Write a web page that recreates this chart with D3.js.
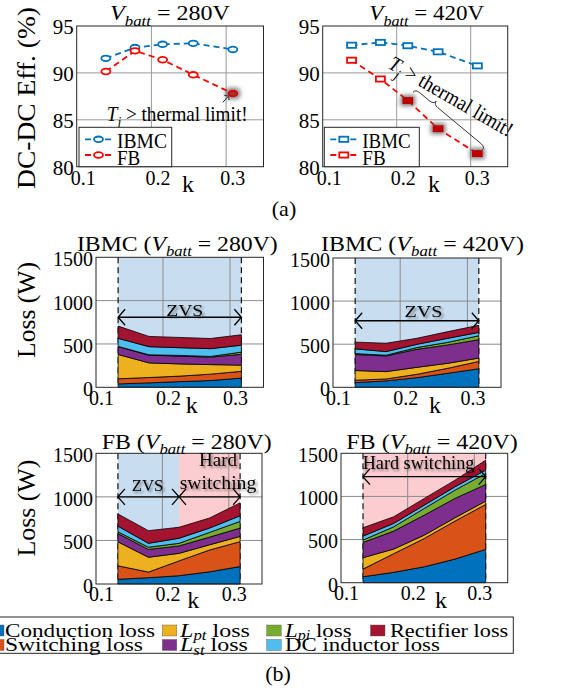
<!DOCTYPE html>
<html><head><meta charset="utf-8">
<script src="https://cdn.jsdelivr.net/npm/d3@7"></script>
<style>body{margin:0;background:#fff}svg{display:block}</style>
</head><body><svg id="c" width="562" height="698"></svg>
<script>
// ---------- DATA ----------
const kDomain = [0.1, 0.35];
const effDomain = [80, 95];
const effK = [0.139, 0.178, 0.215, 0.256, 0.309];
const eff280IBMC = [91.55, 92.7, 93.05, 93.15, 92.5];
const eff280FB = [90.15, 92.35, 91.4, 89.8, 87.8];
const eff420IBMC = [92.95, 93.25, 92.9, 92.25, 90.75];
const eff420FB = [91.35, 89.35, 87.05, 84.05, 81.4];
const effHot280 = [4];
const effHot420 = [2, 3, 4];
const kTicks = [0.1, 0.2, 0.3];
const effTicks = [80, 85, 90, 95];

const lossDomain = [0, 1500];
const lossTicks = [0, 500, 1000, 1500];
const lossK = [0.133, 0.179, 0.225, 0.271, 0.317];
const lossNames = ["Conduction loss", "Switching loss", "*L*_{pt} loss", "*L*_{st} loss", "*L*_{pi} loss", "DC inductor loss", "Rectifier loss"];
const lossColors = ["#0072BD", "#D95319", "#EDB120", "#7E2F8E", "#77AC30", "#4DBEEE", "#A2142F"];
// rows: conduction, switching, Lpt, Lst, Lpi, DC inductor, rectifier
const ibmc280 = [
  [39, 51, 66, 78, 106],
  [59, 62, 63, 74, 78],
  [281, 169, 141, 110, 72],
  [90, 89, 90, 86, 125],
  [3, 4, 8, 8, 25],
  [93, 94, 89, 90, 80],
  [141, 118, 118, 117, 120]
];
const ibmc420 = [
  [54, 74, 112, 163, 215],
  [28, 23, 39, 58, 85],
  [113, 85, 81, 58, 39],
  [186, 182, 209, 213, 213],
  [10, 8, 20, 30, 46],
  [55, 42, 38, 47, 39],
  [78, 97, 70, 77, 82]
];
const fb280 = [
  [54, 72, 95, 140, 200],
  [155, 65, 170, 250, 286],
  [275, 170, 87, 60, 60],
  [95, 90, 85, 88, 96],
  [20, 25, 30, 54, 76],
  [65, 45, 58, 50, 65],
  [140, 145, 126, 115, 148]
];
const fb420 = [
  [69, 120, 185, 274, 386],
  [89, 216, 328, 440, 521],
  [132, 54, 39, 39, 39],
  [177, 208, 232, 224, 193],
  [27, 50, 77, 96, 127],
  [46, 39, 39, 39, 39],
  [97, 77, 77, 77, 115]
];
const legendOrder = [0, 2, 4, 6, 1, 3, 5];

// ---------- HELPERS ----------
const FONT = '"Liberation Serif","Times New Roman",Times,serif';
const BLUE = "#0072BD", RED = "#FF0000";
const ZVS_FILL = "#c8ddf0", HARD_FILL = "#fccdd0";
const svg = d3.select("#c");
svg.append("defs").html(`
<filter id="halo" x="-2" y="-2" width="5" height="5">
  <feMorphology in="SourceAlpha" operator="dilate" radius="1.5" result="d"/>
  <feGaussianBlur in="d" stdDeviation="2" result="b"/>
  <feFlood flood-color="#555" flood-opacity="0.75"/>
  <feComposite in2="b" operator="in" result="s"/>
  <feMerge><feMergeNode in="s"/><feMergeNode in="SourceGraphic"/></feMerge>
</filter>
<filter id="tshadow" x="-0.3" y="-0.5" width="1.6" height="2">
  <feGaussianBlur in="SourceAlpha" stdDeviation="1.3" result="b"/>
  <feOffset in="b" dx="1.5" dy="1.5" result="o"/>
  <feComponentTransfer in="o" result="s"><feFuncA type="linear" slope="0.45"/></feComponentTransfer>
  <feMerge><feMergeNode in="s"/><feMergeNode in="SourceGraphic"/></feMerge>
</filter>`);

function parseRich(s) {
  const parts = []; const re = /\*([^*]+)\*|_\{([^}]+)\}|([^*_]+)/g; let m;
  while ((m = re.exec(s))) {
    if (m[1]) parts.push({ t: m[1], i: true });
    else if (m[2]) parts.push({ t: m[2], i: true, sub: true });
    else parts.push({ t: m[3] });
  }
  return parts;
}
function label(parent, s, o) {
  const g = parent.append("g");
  const t = g.append("text").attr("font-size", o.size).attr("text-anchor", o.anchor || "start")
    .attr("font-family", FONT).attr("fill", "#000").style("white-space", "pre");
  let sub = false;
  const sd = o.subDy || 0.28;
  parseRich(s).forEach(p => {
    const ts = t.append("tspan").text(p.t);
    if (p.i) ts.attr("font-style", "italic");
    if (p.sub) { ts.attr("font-size", o.size * 0.7).attr("dy", o.size * sd); sub = true; }
    else if (sub) { ts.attr("dy", -o.size * sd); sub = false; }
  });
  let sx = 1;
  if (o.w) { const len = t.node().getComputedTextLength(); if (len > 0) sx = o.w / len; }
  g.attr("transform", `translate(${o.x},${o.y})` + (o.rot ? ` rotate(${o.rot})` : "") + ` scale(${sx},${o.sy || 1})`);
  if (o.filter) t.attr("filter", `url(#${o.filter})`);
  return g;
}
function styleAxis(ax, size) {
  ax.attr("font-family", FONT).attr("font-size", size);
  ax.select(".domain").remove();
  ax.selectAll("text").attr("fill", "#000");
}

// ---------- EFFICIENCY PANELS ----------
function marker(g, type, cx, cy, c, hot) {
  let m;
  if (type === "circle") {
    m = g.append("ellipse").attr("cx", cx).attr("cy", cy).attr("rx", 4.5).attr("ry", 2.8);
  } else {
    m = g.append("rect").attr("x", cx - 4.5).attr("y", cy - 2.6).attr("width", 9).attr("height", 5.2);
  }
  m.attr("stroke-width", 1.8);
  if (hot) {
    m.attr("stroke", type === "circle" ? "#d40000" : "#b80000")
     .attr("fill", type === "circle" ? "#a83030" : "#c00000").attr("filter", "url(#halo)");
  } else m.attr("fill", "#fff").attr("stroke", c);
}
function effPanel(o) {
  const g = svg.append("g");
  const yb = 166.7, yt = 26;
  const x = d3.scaleLinear().domain(kDomain).range([o.x0, o.x1]);
  const y = d3.scaleLinear().domain(effDomain).range([yb, yt]);
  g.selectAll(null).data(kTicks.filter(d => d > kDomain[0] && d < kDomain[1])).join("line")
    .attr("x1", d => x(d)).attr("x2", d => x(d)).attr("y1", yt).attr("y2", yb)
    .attr("stroke", "#9a9a9a").attr("stroke-width", 1);
  g.selectAll(null).data(effTicks.filter(d => d > effDomain[0] && d < effDomain[1])).join("line")
    .attr("x1", o.x0).attr("x2", o.x1).attr("y1", d => y(d)).attr("y2", d => y(d))
    .attr("stroke", "#9a9a9a").attr("stroke-width", 1);
  g.append("rect").attr("x", o.x0).attr("y", yt).attr("width", o.x1 - o.x0).attr("height", yb - yt)
    .attr("fill", "none").attr("stroke", "#262626").attr("stroke-width", 1);
  const ax = g.append("g").attr("transform", `translate(0,${yb})`)
    .call(d3.axisBottom(x).tickValues(kTicks).tickFormat(d3.format(".1f")).tickSize(0).tickPadding(4));
  styleAxis(ax, 20); ax.selectAll("text").attr("dx", 6);
  const ay = g.append("g").attr("transform", `translate(${o.x0},0)`)
    .call(d3.axisLeft(y).tickValues(effTicks).tickFormat(d3.format("d")).tickSize(0).tickPadding(3));
  styleAxis(ay, 21); ay.selectAll("text").attr("dy", "0.36em");
  if (o.annot) o.annot(g, x, y);
  const line = d3.line().x((d, i) => x(effK[i])).y(d => y(d));
  const series = [{ v: o.ibmc, c: BLUE, hot: [] }, { v: o.fb, c: RED, hot: o.hot }];
  series.forEach(s => {
    g.append("path").attr("d", line(s.v)).attr("fill", "none").attr("stroke", s.c)
      .attr("stroke-width", 1.8).attr("stroke-dasharray", "6,4");
    s.v.forEach((v, i) => marker(g, o.marker, x(effK[i]), y(v), s.c, s.hot.includes(i)));
  });
  const lx0 = o.lx, lx1 = o.lx + o.lw, ly0 = 127.3, ly1 = yb;
  g.append("rect").attr("x", lx0).attr("y", ly0).attr("width", lx1 - lx0).attr("height", ly1 - ly0)
    .attr("fill", "#fff").attr("stroke", "#262626").attr("stroke-width", 1);
  [{ n: "IBMC", c: BLUE, ly: 139.3, ty: 148, w: o.wI }, { n: "FB", c: RED, ly: 155, ty: 165, w: o.wF }].forEach(e => {
    g.append("line").attr("x1", o.lx + 6).attr("x2", o.lx + 33).attr("y1", e.ly).attr("y2", e.ly)
      .attr("stroke", e.c).attr("stroke-width", 1.8).attr("stroke-dasharray", "6,4");
    marker(g, o.marker, o.lx + 19.5, e.ly, e.c, false);
    label(g, e.n, { x: o.lx + 38, y: e.ty, size: 22, w: e.w, sy: 0.92 });
  });
  label(g, o.title, { x: o.tx, y: 20, size: 20, anchor: "middle", w: o.tw });
  label(g, "k", { x: o.kx, y: 192, size: 24, anchor: "middle" });
}

effPanel({
  x0: 76.7, x1: 263.5, ibmc: eff280IBMC, fb: eff280FB, hot: effHot280, marker: "circle",
  lx: 79, lw: 92.7, wI: 50, wF: 23.3, title: "*V*_{batt} = 280V", tx: 170, tw: 120, kx: 188,
  annot: (g, x, y) => {
    label(g, "*T*_{j} > thermal limit!", { x: 106.7, y: 121, size: 21, w: 141 });
    const x1 = x(0.2955), y1 = y(86.85), x2 = x(0.3035), y2 = y(87.55);
    g.append("line").attr("x1", x1).attr("y1", y1).attr("x2", x2).attr("y2", y2).attr("stroke", "#222").attr("stroke-width", 1);
    g.append("polyline").attr("points", `${x2 - 4.5},${y2 - 0.5} ${x2},${y2} ${x2 + 0.3},${y2 + 4.3}`)
      .attr("fill", "none").attr("stroke", "#222").attr("stroke-width", 1);
  }
});
effPanel({
  x0: 322.7, x1: 507.7, ibmc: eff420IBMC, fb: eff420FB, hot: effHot420, marker: "square",
  lx: 324.3, lw: 95, wI: 48.3, wF: 23.3, title: "*V*_{batt} = 420V", tx: 426.8, tw: 115, kx: 434,
  annot: (g, x, y) => {
    label(g, "*T*_{j} > thermal limit!", { x: 387, y: 67.5, size: 21, w: 140, rot: 30 });
    const S = [x(0.222), y(87.93)], E = [x(0.316), y(81.78)];
    const L = Math.hypot(E[0] - S[0], E[1] - S[1]);
    const d = [(E[0] - S[0]) / L, (E[1] - S[1]) / L], n = [d[1], -d[0]];
    const P = (t, h) => [S[0] + d[0] * L * t + n[0] * h, S[1] + d[1] * L * t + n[1] * h];
    const f = p => p[0].toFixed(1) + "," + p[1].toFixed(1);
    const h = 4, a = 0.06, tip = 0.26;
    const path = `M${f(P(0, 0))} Q${f(P(0, h))} ${f(P(a, h))} L${f(P(tip - a, h))} Q${f(P(tip, h))} ${f(P(tip, 2 * h))} Q${f(P(tip, h))} ${f(P(tip + a, h))} L${f(P(1 - a, h))} Q${f(P(1, h))} ${f(P(1, 0))}`;
    g.append("path").attr("d", path).attr("fill", "none").attr("stroke", "#333").attr("stroke-width", 1);
  }
});
label(svg, "DC-DC Eff. (%)", { x: 35, y: 98, size: 25, anchor: "middle", rot: -90, w: 182 });
label(svg, "(a)", { x: 284, y: 216, size: 22, anchor: "middle" });

// ---------- LOSS PANELS ----------
function lossPanel(o) {
  const g = svg.append("g");
  const x = d3.scaleLinear().domain(kDomain).range([o.x0, o.x1]);
  const y = d3.scaleLinear().domain(lossDomain).range([o.yb, o.yt]);
  o.zones.forEach(z => {
    g.append("rect").attr("x", x(lossK[z.a])).attr("y", o.yt).attr("width", x(lossK[z.b]) - x(lossK[z.a]))
      .attr("height", o.yb - o.yt).attr("fill", z.fill);
  });
  g.selectAll(null).data(kTicks.filter(d => d > kDomain[0] && d < kDomain[1])).join("line")
    .attr("x1", d => x(d)).attr("x2", d => x(d)).attr("y1", o.yt).attr("y2", o.yb)
    .attr("stroke", "#8c8c8c").attr("stroke-width", 1);
  g.selectAll(null).data(lossTicks.filter(d => d > lossDomain[0] && d < lossDomain[1])).join("line")
    .attr("x1", o.x0).attr("x2", o.x1).attr("y1", d => y(d)).attr("y2", d => y(d))
    .attr("stroke", "#8c8c8c").attr("stroke-width", 1);
  [lossK[0], lossK[lossK.length - 1]].forEach(k => {
    g.append("line").attr("x1", x(k)).attr("x2", x(k)).attr("y1", o.yt).attr("y2", o.yb)
      .attr("stroke", "#111").attr("stroke-width", 1.2).attr("stroke-dasharray", "6,4");
  });
  const rows = lossK.map((k, i) => { const r = { k }; o.data.forEach((s, j) => r[j] = s[i]); return r; });
  const stack = d3.stack().keys(d3.range(o.data.length))(rows);
  const area = d3.area().x(d => x(d.data.k)).y0(d => y(d[0])).y1(d => y(d[1]));
  g.selectAll(null).data(stack).join("path").attr("d", area)
    .attr("fill", (d, i) => lossColors[i]).attr("stroke", "#000").attr("stroke-width", 0.8).attr("stroke-linejoin", "round");
  g.append("rect").attr("x", o.x0).attr("y", o.yt).attr("width", o.x1 - o.x0).attr("height", o.yb - o.yt)
    .attr("fill", "none").attr("stroke", "#262626").attr("stroke-width", 1);
  const ax = g.append("g").attr("transform", `translate(0,${o.yb})`)
    .call(d3.axisBottom(x).tickValues(kTicks).tickFormat(d3.format(".1f")).tickSize(0).tickPadding(3));
  styleAxis(ax, 20); ax.selectAll("text").attr("dx", 5);
  const ay = g.append("g").attr("transform", `translate(${o.x0},0)`)
    .call(d3.axisLeft(y).tickValues(lossTicks).tickFormat(d3.format("d")).tickSize(0).tickPadding(3));
  styleAxis(ay, 20); ay.selectAll("text").attr("dy", "0.42em");
  o.arrows.forEach(a => {
    const xa = x(lossK[a.a]), xb = x(lossK[a.b]), yy = y(a.v);
    g.append("line").attr("x1", xa).attr("x2", xb).attr("y1", yy).attr("y2", yy).attr("stroke", "#000").attr("stroke-width", 1.3);
    g.append("polyline").attr("points", `${xa + 7},${yy - 8} ${xa},${yy} ${xa + 7},${yy + 8}`)
      .attr("fill", "none").attr("stroke", "#000").attr("stroke-width", 1.3);
    g.append("polyline").attr("points", `${xb - 7},${yy - 8} ${xb},${yy} ${xb - 7},${yy + 8}`)
      .attr("fill", "none").attr("stroke", "#000").attr("stroke-width", 1.3);
  });
  o.texts.forEach(t => label(g, t.s, { x: t.x, y: t.y, size: t.size, anchor: "middle", w: t.w, filter: "tshadow" }));
  label(g, o.title, { x: o.tx, y: o.ty, size: 22, anchor: "middle", w: o.tw, subDy: 0.22 });
  label(g, "k", { x: o.kx, y: o.ky, size: 24, anchor: "middle" });
}

lossPanel({ x0: 96, x1: 263.5, yb: 387.3, yt: 257.3, data: ibmc280,
  zones: [{ a: 0, b: 4, fill: ZVS_FILL }], arrows: [{ a: 0, b: 4, v: 808 }],
  texts: [{ s: "ZVS", x: 184.7, y: 316, size: 17, w: 37 }],
  title: "IBMC (*V*_{batt} = 280V)", tx: 177.3, ty: 251, tw: 201, kx: 191.7, ky: 413 });
lossPanel({ x0: 333, x1: 501, yb: 387.3, yt: 258, data: ibmc420,
  zones: [{ a: 0, b: 4, fill: ZVS_FILL }], arrows: [{ a: 0, b: 4, v: 772 }],
  texts: [{ s: "ZVS", x: 423.5, y: 317, size: 17, w: 38 }],
  title: "IBMC (*V*_{batt} = 420V)", tx: 422.5, ty: 251, tw: 203, kx: 435, ky: 413 });
lossPanel({ x0: 96, x1: 262, yb: 584, yt: 453.3, data: fb280,
  zones: [{ a: 0, b: 2, fill: ZVS_FILL }, { a: 2, b: 4, fill: HARD_FILL }],
  arrows: [{ a: 0, b: 2, v: 1000 }, { a: 2, b: 4, v: 1000 }],
  texts: [{ s: "ZVS", x: 147.5, y: 491, size: 16, w: 31.7 }, { s: "Hard", x: 218, y: 466, size: 19, w: 38 },
          { s: "switching", x: 218, y: 489, size: 19, w: 76.7 }],
  title: "FB (*V*_{batt} = 280V)", tx: 186.7, ty: 449, tw: 170, kx: 193.3, ky: 608 });
lossPanel({ x0: 341, x1: 507.7, yb: 582.7, yt: 453.3, data: fb420,
  zones: [{ a: 0, b: 4, fill: HARD_FILL }], arrows: [{ a: 0, b: 4, v: 1229 }],
  texts: [{ s: "Hard switching", x: 418.5, y: 469, size: 19, w: 111.7 }],
  title: "FB (*V*_{batt} = 420V)", tx: 432, ty: 449, tw: 171.7, kx: 441, ky: 608 });

label(svg, "Loss (W)", { x: 35, y: 310, size: 25, anchor: "middle", rot: -90, w: 96 });
label(svg, "Loss (W)", { x: 35, y: 508, size: 25, anchor: "middle", rot: -90, w: 97 });

// ---------- BOTTOM LEGEND ----------
const lg = svg.append("g");
lg.append("rect").attr("x", -2).attr("y", 617).attr("width", 515.3).attr("height", 36.3)
  .attr("fill", "#fff").attr("stroke", "#262626").attr("stroke-width", 1);
const colX = [-10.5, 162.3, 266.7, 370.5];
const textX = [5, 180, 285, 390];
const rowY = [636.5, 651];
const textW = [150, 70, 66.7, 118.3, 138, 68, 155];
legendOrder.forEach((li, pos) => {
  const r = pos < 4 ? 0 : 1, c = pos < 4 ? pos : pos - 4;
  lg.append("rect").attr("x", colX[c]).attr("y", rowY[r] - 11.5).attr("width", 14.5).attr("height", 11)
    .attr("fill", lossColors[li]).attr("stroke", "#555").attr("stroke-width", 0.4);
  label(lg, lossNames[li], { x: textX[c], y: rowY[r], size: 22, w: textW[pos], sy: 0.9, subDy: 0.2 });
});
label(svg, "(b)", { x: 278, y: 681, size: 22, anchor: "middle" });
</script></body></html>
